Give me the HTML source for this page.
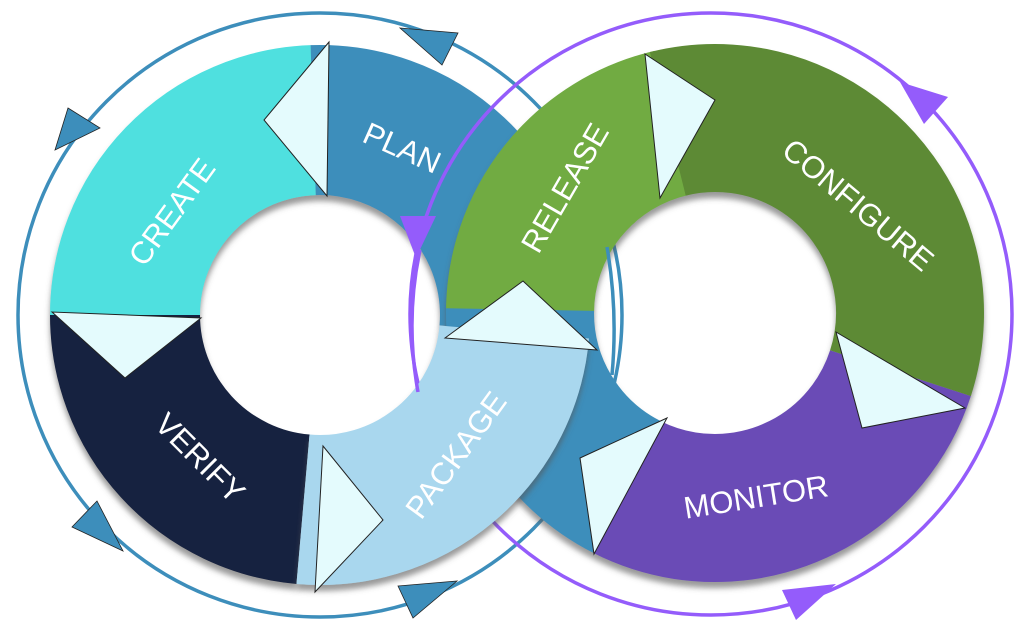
<!DOCTYPE html>
<html><head><meta charset="utf-8"><style>
html,body{margin:0;padding:0;background:#fff;width:1024px;height:636px;overflow:hidden}
text{font-family:"Liberation Sans",sans-serif;font-size:31px;fill:#fff;text-anchor:middle;dominant-baseline:central}
</style></head><body>
<svg width="1024" height="636" viewBox="0 0 1024 636" xmlns="http://www.w3.org/2000/svg">
<defs>
<filter id="sh" filterUnits="userSpaceOnUse" x="0" y="0" width="1024" height="636"><feDropShadow dx="0" dy="6" stdDeviation="3" flood-color="#555" flood-opacity="0.6"/></filter>
</defs>
<circle cx="320" cy="315" r="302" fill="none" stroke="#3d8ebb" stroke-width="3.5"/>
<g filter="url(#sh)">
<circle cx="320" cy="315" r="195" fill="none" stroke="#4fe0df" stroke-width="150" pathLength="360" stroke-dasharray="88 360" transform="rotate(180 320 315)"/>
<circle cx="320" cy="315" r="195" fill="none" stroke="#3d8ebb" stroke-width="150" pathLength="360" stroke-dasharray="97 360" transform="rotate(268 320 315)"/>
<circle cx="320" cy="315" r="195" fill="none" stroke="#15213f" stroke-width="150" pathLength="360" stroke-dasharray="85 360" transform="rotate(95 320 315)"/>
</g>
<circle cx="711" cy="314" r="301" fill="none" stroke="#945cfb" stroke-width="3.5"/>
<g filter="url(#sh)">
<circle cx="715" cy="313" r="195" fill="none" stroke="#71ab43" stroke-width="148" pathLength="360" stroke-dasharray="77 360" transform="rotate(180 715 313)"/>
<circle cx="715" cy="313" r="195" fill="none" stroke="#5d8a34" stroke-width="148" pathLength="360" stroke-dasharray="122 360" transform="rotate(256 715 313)"/>
<circle cx="715" cy="313" r="195" fill="none" stroke="#6a4bb6" stroke-width="148" pathLength="360" stroke-dasharray="99 360" transform="rotate(18 715 313)"/>
<circle cx="715" cy="313" r="195" fill="none" stroke="#3d8ebb" stroke-width="148" pathLength="360" stroke-dasharray="64 360" transform="rotate(117 715 313)"/>
</g>
<g filter="url(#sh)">
<circle cx="320" cy="315" r="195" fill="none" stroke="#a9d7ee" stroke-width="150" pathLength="360" stroke-dasharray="90 360" transform="rotate(5 320 315)"/>
</g>
<path d="M420 250 Q405 320 418 392" fill="none" stroke="#945cfb" stroke-width="3.5"/>
<path d="M607 247 Q618 310 612 375" fill="none" stroke="#3d8ebb" stroke-width="3.5"/>
<g fill="#e4fbfd" stroke="#222" stroke-width="1">
<polygon points="329,42 264,120 327,196"/>
<polygon points="52,312 125,378 201,318"/>
<polygon points="323,446 383,520 315,592"/>
<polygon points="445,338 523,281 597,350"/>
<polygon points="645,54 715,100 660,198"/>
<polygon points="836,332 965,408 862,428"/>
<polygon points="580,458 667,418 594,554"/>
</g>
<g fill="#3d8ebb" stroke="#222" stroke-width="0.8">
<polygon points="68,108 100,128 55,150"/>
<polygon points="400,28 458,33 442,65"/>
<polygon points="97,501 72,527 123,551"/>
<polygon points="398,586 457,581 413,618"/>
</g>
<g fill="#945cfb">
<polygon points="400,216 436,216 416,258"/>
<polygon points="900,82 948,97 924,124"/>
<polygon points="782,590 836,584 796,620"/>
</g>
<text transform="translate(172,212) rotate(-54)">CREATE</text>
<text transform="translate(402,148) rotate(24)">PLAN</text>
<text transform="translate(200,458) rotate(45)">VERIFY</text>
<text transform="translate(456,455) rotate(-54)">PACKAGE</text>
<text transform="translate(565,188) rotate(-60)">RELEASE</text>
<text transform="translate(858,205) rotate(40)">CONFIGURE</text>
<text transform="translate(756,497) rotate(-9)">MONITOR</text>
</svg>
</body></html>
